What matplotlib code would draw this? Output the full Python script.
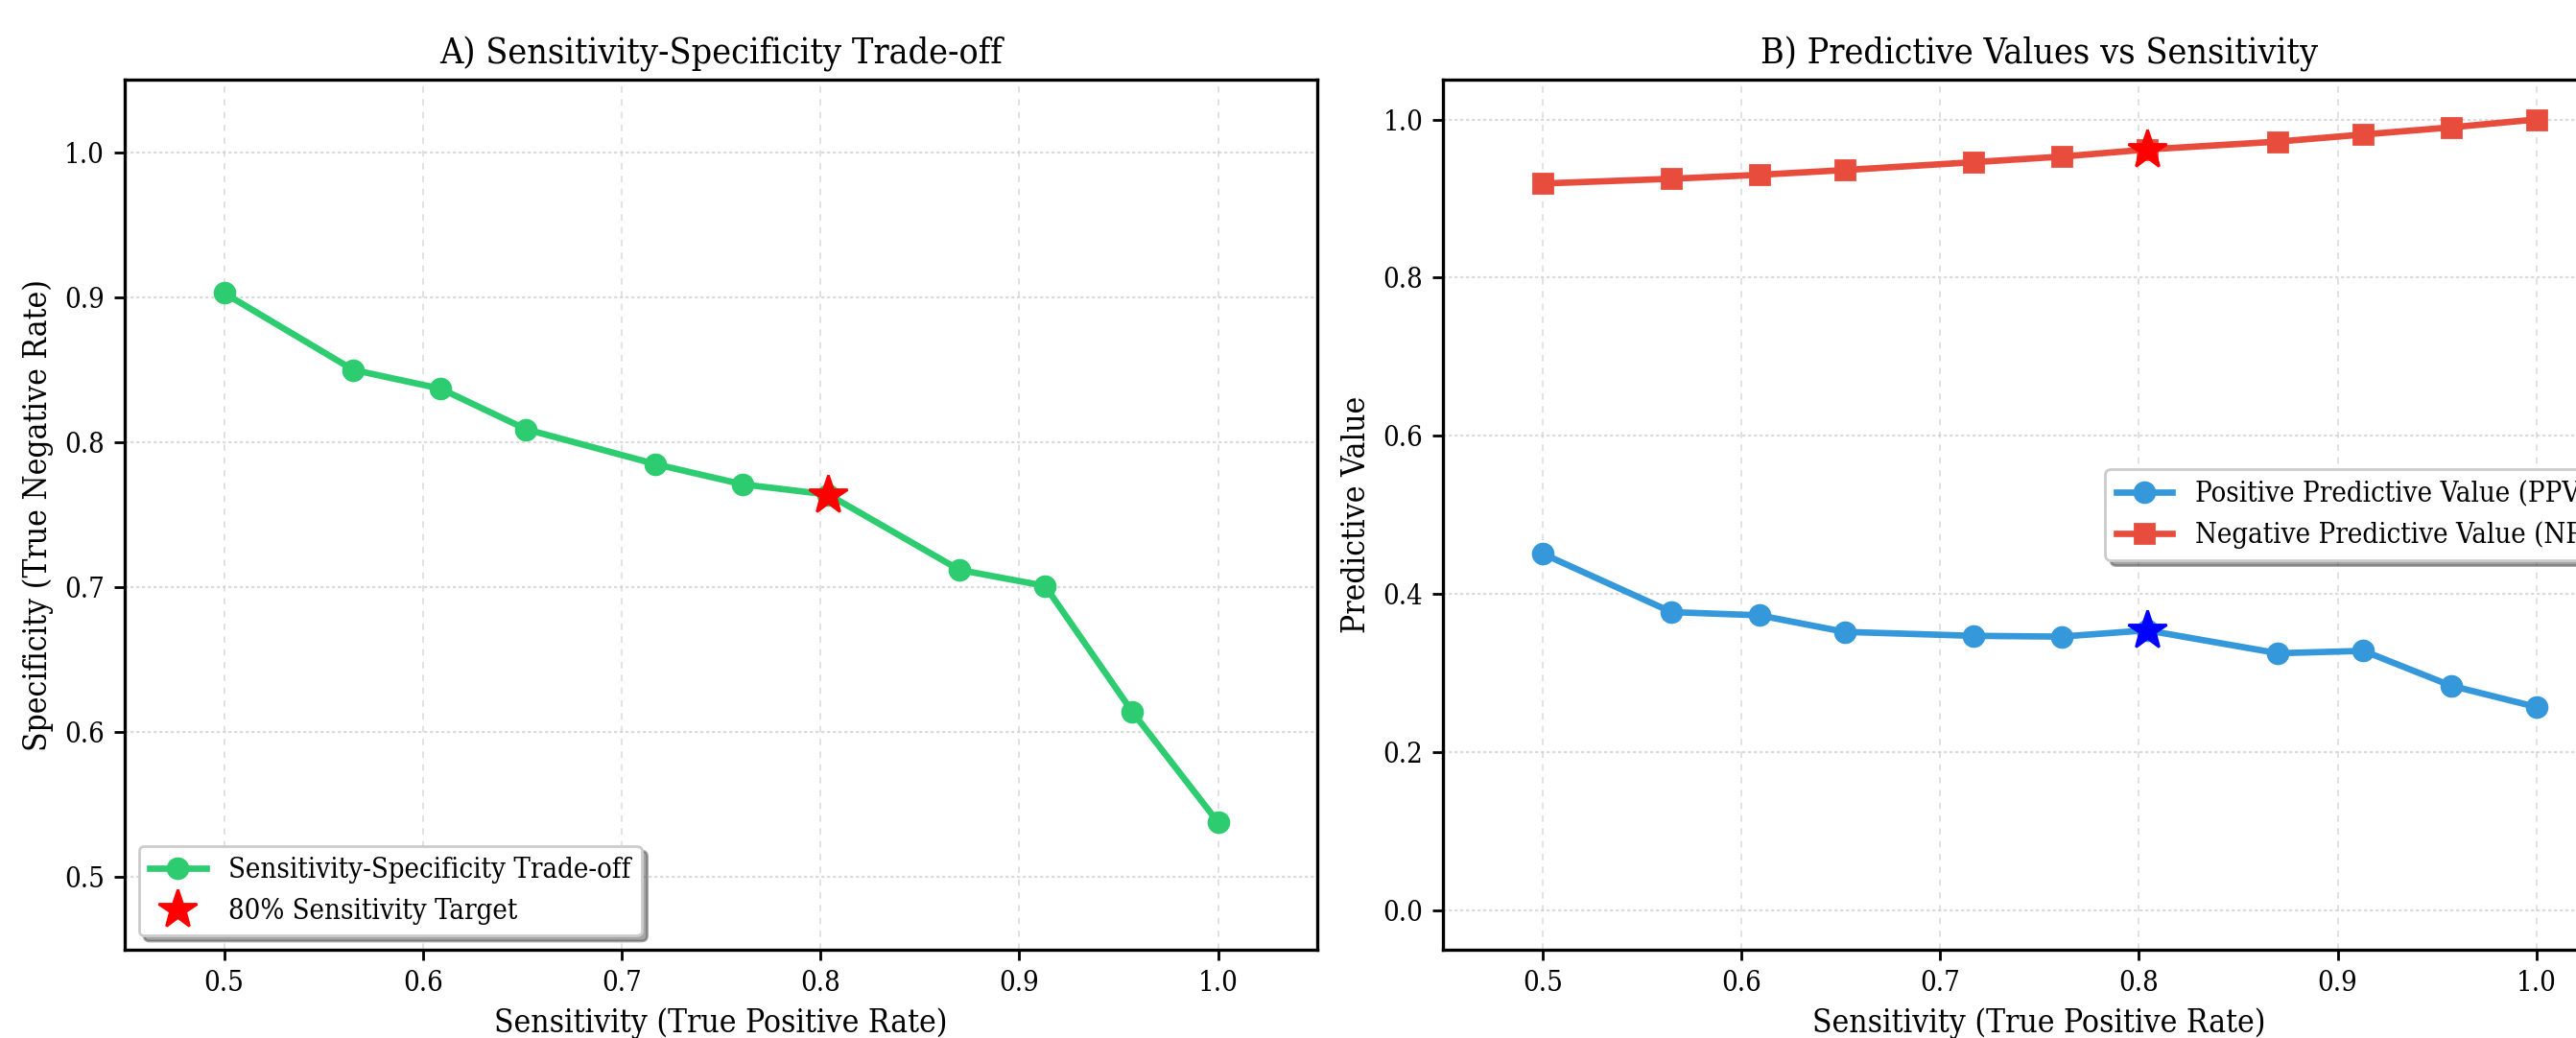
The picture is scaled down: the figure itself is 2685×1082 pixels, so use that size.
"""Sensitivity / specificity and predictive values at each threshold."""

import matplotlib
matplotlib.use("Agg")
import matplotlib.pyplot as plt

plt.rcParams.update({
    "font.family": ["DejaVu Serif"],
    "font.stretch": "condensed",
    "axes.linewidth": 1.2,
    "xtick.labelsize": 10.5,
    "ytick.labelsize": 10.5,
    "axes.labelsize": 12,
    "axes.titlesize": 13.5,
    "legend.fontsize": 10.5,
})

sensitivity = [0.500, 0.565, 0.609, 0.652, 0.717, 0.761, 0.804, 0.870, 0.913, 0.957, 1.000]
specificity = [0.903, 0.850, 0.837, 0.809, 0.785, 0.771, 0.764, 0.712, 0.701, 0.614, 0.538]
ppv = [0.451, 0.377, 0.373, 0.352, 0.347, 0.346, 0.354, 0.325, 0.328, 0.284, 0.257]
npv = [0.919, 0.925, 0.930, 0.936, 0.946, 0.953, 0.962, 0.972, 0.981, 0.990, 1.000]
target = 6  # index of the 80% sensitivity point

fig = plt.figure(figsize=(13.425, 5.41), dpi=200)
ax1 = fig.add_axes([0.0484, 0.085, 0.463, 0.838])
ax2 = fig.add_axes([0.5602, 0.085, 0.463, 0.838])


def style(ax):
    ax.set_axisbelow(True)
    ax.xaxis.grid(True, linestyle=(0, (4, 4)), color="#cccccc", linewidth=0.6, alpha=0.7)
    ax.yaxis.grid(True, linestyle=(0, (1.5, 1.2)), color="#cccccc", linewidth=0.8, alpha=0.7)
    ax.tick_params(direction="out", length=4, width=1)
    ax.set_xlim(0.45, 1.05)


# A) trade-off curve
ax1.plot(sensitivity, specificity, "o-", color="#2ecc71", lw=2.4, markersize=7.5,
         label="Sensitivity-Specificity Trade-off")
ax1.plot(sensitivity[target], specificity[target], "*", color="red", markersize=15,
         label="80% Sensitivity Target")
style(ax1)
ax1.set_ylim(0.45, 1.05)
ax1.set_xlabel("Sensitivity (True Positive Rate)")
ax1.set_ylabel("Specificity (True Negative Rate)")
ax1.set_title("A) Sensitivity-Specificity Trade-off")
ax1.legend(loc="lower left", shadow=True, fancybox=True)

# B) predictive values
ax2.plot(sensitivity, ppv, "o-", color="#3498db", lw=2.4, markersize=7.5,
         label="Positive Predictive Value (PPV)")
ax2.plot(sensitivity, npv, "s-", color="#e74c3c", lw=2.4, markersize=7.5,
         label="Negative Predictive Value (NPV)")
ax2.plot(sensitivity[target], ppv[target], "*", color="blue", markersize=15)
ax2.plot(sensitivity[target], npv[target], "*", color="red", markersize=15)
style(ax2)
ax2.set_ylim(-0.05, 1.05)
ax2.set_xlabel("Sensitivity (True Positive Rate)")
ax2.set_ylabel("Predictive Value")
ax2.set_title("B) Predictive Values vs Sensitivity")
ax2.legend(loc="center right", shadow=True, fancybox=True)

fig.savefig("out.png", dpi=200)
